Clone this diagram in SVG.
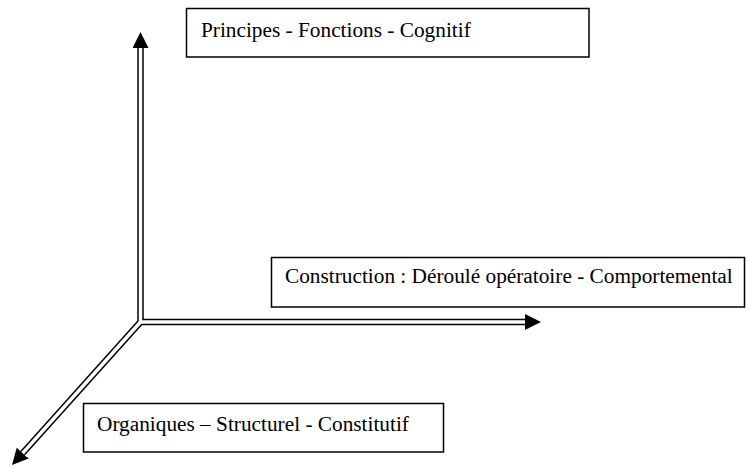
<svg xmlns="http://www.w3.org/2000/svg" width="748" height="468" viewBox="0 0 748 468">
  <style>
    .box { fill: #ffffff; stroke: #000000; stroke-width: 1.5; }
    .lbl { font-family: "Liberation Serif", "Times New Roman", serif; font-size: 21.3px; fill: #000000; }
    .axis-outer { fill: none; stroke: #000000; stroke-width: 6.5; stroke-linejoin: miter; }
    .axis-inner { fill: none; stroke: #ffffff; stroke-width: 3.5; stroke-linejoin: miter; }
  </style>
  <defs>
    <marker id="arrow" viewBox="0 0 16 16" refX="0" refY="8" markerWidth="16" markerHeight="16" markerUnits="userSpaceOnUse" orient="auto">
      <path d="M0,0 L16,8 L0,16 Z" fill="#000000"/>
    </marker>
  </defs>
  <rect width="748" height="468" fill="#ffffff"/>

  <g id="connectors">
    <path class="axis-outer" d="M140.5,322 L140.5,48"  marker-end="url(#arrow)"/>
    <path class="axis-outer" d="M140.5,322 L525,322" marker-end="url(#arrow)"/>
    <path class="axis-outer" d="M140.5,322 L22.7,453.1" marker-end="url(#arrow)"/>
    <path class="axis-inner" d="M140.5,48 L140.5,322 L525,322"/>
    <path class="axis-inner" d="M140.5,322 L22.7,453.1"/>
  </g>

  <g id="node-cognitif">
    <rect class="box" x="186.5" y="8.5" width="402.5" height="48.5"/>
    <text class="lbl" x="201" y="37">Principes - Fonctions - Cognitif</text>
  </g>

  <g id="node-comportemental">
    <rect class="box" x="271.5" y="257.5" width="473" height="49.5"/>
    <text class="lbl" x="285" y="283">Construction : Déroulé opératoire - Comportemental</text>
  </g>

  <g id="node-constitutif">
    <rect class="box" x="83.5" y="403.5" width="360" height="48.5"/>
    <text class="lbl" x="97" y="431">Organiques – Structurel - Constitutif</text>
  </g>
</svg>
